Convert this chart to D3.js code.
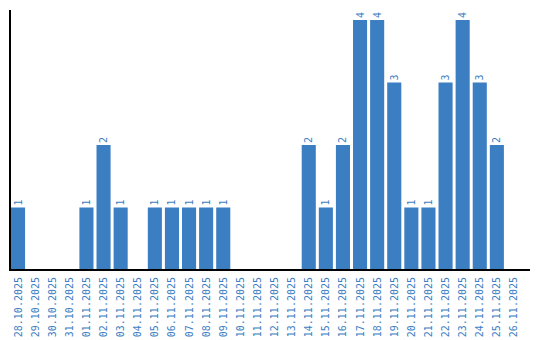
<!DOCTYPE html>
<html lang="en">
<head>
  <meta charset="UTF-8">
  <title>Daily counts</title>
  <style>
    body { margin: 0; background: #fff; }
    .bar { fill: #3b7ec2; }
    .label, .tick text {
      fill: #3b7ec2;
      font-family: "DejaVu Sans Mono", monospace;
      font-size: 10px;
    }
    .axis-line { stroke: #000; stroke-width: 2px; }
  </style>
</head>
<body>
  <svg id="chart" width="540" height="340"></svg>

  <script src="https://d3js.org/d3.v7.min.js"></script>
  <script>
    // Data
    const dates = [
      '28.10.2025', '29.10.2025', '30.10.2025', '31.10.2025', '01.11.2025',
      '02.11.2025', '03.11.2025', '04.11.2025', '05.11.2025', '06.11.2025',
      '07.11.2025', '08.11.2025', '09.11.2025', '10.11.2025', '11.11.2025',
      '12.11.2025', '13.11.2025', '14.11.2025', '15.11.2025', '16.11.2025',
      '17.11.2025', '18.11.2025', '19.11.2025', '20.11.2025', '21.11.2025',
      '22.11.2025', '23.11.2025', '24.11.2025', '25.11.2025', '26.11.2025'
    ];
    const counts = [
      1, 0, 0, 0, 1,
      2, 1, 0, 1, 1,
      1, 1, 1, 0, 0,
      0, 0, 2, 1, 2,
      4, 4, 3, 1, 1,
      3, 4, 3, 2, 0
    ];

    const data = dates.map((d, i) => ({ date: d, value: counts[i] }));

    // Dimensions
    const margin = { left: 11, bottom: 270, top: 10, right: 530 };

    const svg = d3.select('#chart');

    const x = d3.scaleBand()
      .domain(dates)
      .range([margin.left, margin.left + 17 * dates.length])
      .paddingInner(3 / 17)
      .paddingOuter(0)
      .align(0);

    const y = d3.scaleLinear()
      .domain([0, 4])
      .range([margin.bottom, 20]);

    // Bars
    svg.selectAll('.bar')
      .data(data.filter(d => d.value > 0))
      .enter().append('rect')
      .attr('class', 'bar')
      .attr('x', d => x(d.date))
      .attr('y', d => y(d.value))
      .attr('width', x.bandwidth())
      .attr('height', d => y(0) - y(d.value));

    // Value labels
    svg.selectAll('.label')
      .data(data.filter(d => d.value > 0))
      .enter().append('text')
      .attr('class', 'label')
      .attr('transform', d => `translate(${x(d.date) + x.bandwidth() / 2},${y(d.value) - 2}) rotate(-90)`)
      .attr('dy', '0.35em')
      .attr('text-anchor', 'start')
      .text(d => d.value);

    // X axis
    const xAxis = d3.axisBottom(x).tickSize(0).tickPadding(0);
    const gx = svg.append('g')
      .attr('transform', `translate(0,${margin.bottom})`)
      .call(xAxis);
    gx.select('.domain').remove();
    gx.selectAll('.tick text')
      .attr('transform', 'translate(0,7) rotate(-90)')
      .attr('text-anchor', 'end')
      .attr('x', 0)
      .attr('y', 0)
      .attr('dy', '0.35em');

    // Axis lines
    svg.append('line')
      .attr('class', 'axis-line')
      .attr('x1', margin.left - 1).attr('x2', margin.left - 1)
      .attr('y1', margin.top).attr('y2', margin.bottom + 1);
    svg.append('line')
      .attr('class', 'axis-line')
      .attr('x1', margin.left - 2).attr('x2', margin.right)
      .attr('y1', margin.bottom).attr('y2', margin.bottom);
  </script>
</body>
</html>
